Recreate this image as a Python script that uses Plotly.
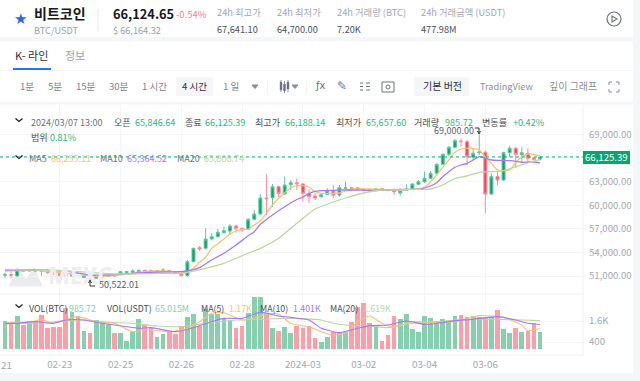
import plotly.graph_objects as go

W, H = 640, 381

# --- candles (4h BTC/USDT) -------------------------------------------------
opens = [51090,51180,51005,51767,51640,51767,51680,51640,51555,51344,51217,51005,51259,50836,51005,50709,50878,50960,51132,51217,
 51428,51470,51555,51725,51725,51598,51640,51682,51555,51344,51050,52820,54598,54522,55703,55995,56503,56719,57354,57062,
 56935,58205,58878,60910,60948,62345,61418,62599,62853,62688,61507,61164,61075,61380,61799,61291,62142,62223,62223,62011,
 61969,61842,62096,61969,61884,61545,61884,62053,62650,62980,63412,64047,65190,66460,67349,68149,68060,66079,66663,66714,
 61418,63615,63196,66663,67222,66409,66587,65990,65846.64]
highs = [51430,51560,51900,51810,51810,51830,51790,51900,51640,51430,51300,51300,51340,51130,51090,50960,51050,51130,51200,51640,
 51640,51850,51810,51770,51770,51770,51980,51770,51640,51430,53036,54600,54814,57062,56465,56973,57265,57608,57500,57150,
 58350,59386,61418,63958,62688,62500,63615,63196,63412,62815,62053,61507,61500,62142,62561,62561,62980,62330,62300,62090,
 62050,62180,62220,62050,62138,62138,62650,62800,63196,64250,64340,65317,66587,67514,68403,68492,68276,67133,69000,66917,
 64047,64250,66800,67552,67425,67349,67222,66100,66188.14]
lows = [50710,50710,50950,51550,51600,51560,51005,51300,51130,50990,50880,50920,50880,50790,50522.01,50620,50790,50900,50960,51130,
 51340,51380,51470,51470,51430,51510,51560,51470,51340,50960,50877,52750,54217,54450,55620,55920,56430,56211,56503,56592,
 56850,58120,58800,58751,59767,61037,61291,61926,61926,60440,60275,60656,60950,61291,60910,61075,62060,61800,61900,61760,
 61800,61700,61800,61760,61290,61200,61800,61950,62560,62815,63330,63960,65100,66244,67222,67425,65101,65736,66371,58967,
 61291,62561,63100,66117,64720,65317,65520,65647,65657.60]
closes = [51170,51100,51851,51640,51767,51640,51600,51430,51217,51047,50920,51217,50920,51005,50666,50878,51005,51047,51005,51555,
 51555,51640,51725,51555,51555,51682,51767,51555,51390,51047,52820,54522,54433,55703,55995,56554,56757,57354,57062,56846,
 58205,58878,60910,60821,62345,61507,62561,62853,62726,61507,61075,60910,61329,61837,61291,62218,62218,62096,62011,61842,
 61884,62053,61926,61884,61714,61799,62053,62688,62980,63412,64047,65190,66460,67349,68187,68060,66155,66587,66752,61418,
 63615,63196,66663,67222,66460,66663,65952,65825,66125.39]
volumes = [1600,1467,1886,1372,1619,1562,1924,1219,1276,1238,2324,2133,1886,1029,895,1657,1562,1410,933,933,
 476,990,1733,1372,1181,705,857,990,838,1238,1829,1981,1314,2286,2000,2000,1752,1657,1181,1314,
 2076,2990,2990,2076,1181,1048,1276,933,1314,1181,1314,610,419,705,990,895,990,1524,2419,2610,
 1467,1314,476,800,1886,1695,1981,1124,990,1886,1790,1619,1695,1562,1886,1943,1848,1886,1848,1810,
 1810,2229,1124,933,1181,990,1048,1467,985.72]

# --- moving averages read at selected candles ------------------------------
ma5_idx = [0,5,10,14,18,22,26,29,30,31,32,33,34,35,36,37,38,39,40,41,42,43,44,45,46,47,48,49,50,51,52,53,55,56,57,58,60,61,63,65,67,68,69,70,71,72,73,74,75,76,77,78,79,80,81,82,83,84,85,86,87,88]
ma5_val = [51640,51725,51344,51047,51047,51470,51640,51470,51550,51982,52744,53379,54522,55068,55703,56338,56719,56935,56935,57481,58027,58967,60021,60872,61583,62218,62472,62472,62307,61710,61507,61507,61545,61799,62015,62091,62053,62015,61965,61888,62015,62091,62269,62980,63831,64809,65736,66714,67133,67222,67222,67006,66079,65317,64466,64377,64466,65444,66155,66498,66460,66255.11]
ma10_idx = [0,5,10,14,18,22,26,29,30,32,34,36,38,40,41,42,44,46,48,49,50,51,52,54,56,58,60,62,64,66,68,70,71,72,73,74,75,76,77,78,79,80,81,82,83,84,85,86,87,88]
ma10_val = [51767,51767,51640,51132,51174,51386,51513,51555,51639,52058,53036,53887,54941,56122,56630,57570,58751,59807,60720,61037,61482,61761,61837,61888,61926,61926,61888,61926,61965,62015,62015,62434,62853,63615,64250,64809,65101,65317,65736,66155,65952,65736,65698,65698,65647,65571,65444,65482,65482,65364.52]
ma20_idx = [0,10,14,18,25,29,33,36,39,42,45,48,51,54,56,59,62,66,69,70,72,74,76,78,80,82,84,86,88]
ma20_val = [51851,51640,51470,51259,51344,51344,51982,52617,53582,54522,55792,57697,59513,60402,60910,61545,61926,61990,62015,62053,62561,63412,63704,64174,64250,64377,64885,65355,65808.74]

vma5_idx = [0,1,4,6,8,12,15,18,21,23,27,30,32,34,36,39,41,43,45,47,50,52,54,56,58,60,62,64,67,70,74,78,82,85,86,88]
vma5_val = [1276,1524,1524,1695,1467,1848,1562,1467,990,1124,990,1181,1562,2038,2076,1657,1752,2000,2000,1467,1276,990,800,895,1562,1886,1467,1238,1562,1524,1562,1905,1810,1372,1048,1170]
vma10_idx = [0,2,5,8,10,13,16,18,22,24,28,31,34,36,39,42,45,47,50,52,53,55,58,60,63,66,69,71,74,77,81,84,86,88]
vma10_val = [1467,1467,1562,1467,1657,1657,1467,1372,1181,1219,990,1219,1562,1752,1752,2095,1886,1810,1657,1181,1086,933,1181,1333,1372,1600,1410,1467,1619,1695,1848,1657,1467,1401]
vma20_idx = [0,5,10,13,17,21,25,29,33,38,42,46,51,52,54,56,60,63,66,71,76,81,85,88]
vma20_val = [1505,1467,1619,1657,1524,1467,1314,1276,1467,1657,1695,1752,1695,1657,1467,1372,1314,1219,1429,1562,1695,1695,1657,1619]

last_price = 66125.39
price_ticks = [51000,54000,57000,60000,63000,66000,69000]
price_labels = ["51,000.00","54,000.00","57,000.00","60,000.00","63,000.00","","69,000.00"]
vol_ticks = [400,1600]
date_idx = [9,19,29,39,49,59,69,79]
date_labels = ["02-23","02-25","02-26","02-28","2024-03","03-02","03-04","03-06"]

GREEN, RED = "#0aa56c", "#f8425c"
GREEN_W, RED_W = "#62c49f", "#fb8b9b"
VGREEN, VRED = "#86d0b0", "#fd9ea9"
ORANGE, PURPLE, OLIVE = "#f8c178", "#a678f5", "#bcd6a0"
GREY, DARK, BLACK = "#a3a8b2", "#555a63", "#15181d"
GRID = "#f4f5f7"
KR = "Noto Sans CJK KR, Noto Sans, sans-serif"

X = list(range(len(closes)))
x_rng = [-5/6.08, 578/6.08]
y_top, y_mid, y_bot = 105, 294, 355
chart_r = 583/W

fig = go.Figure()
fig.add_trace(go.Candlestick(x=X, open=opens, high=highs, low=lows, close=closes, xaxis="x", yaxis="y",
    whiskerwidth=0,
    increasing=dict(line=dict(color=GREEN_W, width=1), fillcolor=GREEN),
    decreasing=dict(line=dict(color=RED_W, width=1), fillcolor=RED)))
for idx, val, col in [(ma5_idx, ma5_val, ORANGE), (ma10_idx, ma10_val, PURPLE), (ma20_idx, ma20_val, OLIVE)]:
    fig.add_trace(go.Scatter(x=idx, y=val, mode="lines", xaxis="x", yaxis="y",
                             line=dict(color=col, width=1.3, shape="spline", smoothing=0.5)))
fig.add_trace(go.Bar(x=X, y=volumes, xaxis="x2", yaxis="y2", width=0.78,
                     marker=dict(color=[VGREEN if c >= o else VRED for o, c in zip(opens, closes)], line=dict(width=0))))
for idx, val, col in [(vma20_idx, vma20_val, OLIVE), (vma5_idx, vma5_val, ORANGE), (vma10_idx, vma10_val, PURPLE)]:
    fig.add_trace(go.Scatter(x=idx, y=val, mode="lines", xaxis="x2", yaxis="y2",
                             line=dict(color=col, width=1.1, shape="spline", smoothing=0.6)))

px = lambda v: v/W
py = lambda v: 1-v/H
ann = []
def T(x, y, s, color=DARK, size=10, bold=False, anchor="left", font=KR):
    ann.append(dict(x=px(x), y=py(y), xref="paper", yref="paper", text=f"<b>{s}</b>" if bold else s, showarrow=False,
                    xanchor=anchor, yanchor="middle", align="left", borderpad=0,
                    font=dict(family=font, size=size, color=color)))
shapes = []
def R(x0, y0, x1, y1, fill, layer="below", line=None):
    shapes.append(dict(type="rect", xref="paper", yref="paper", x0=px(x0), x1=px(x1), y0=py(y0), y1=py(y1),
                       fillcolor=fill, line=dict(width=1 if line else 0, color=line or fill), layer=layer))
def P(path_pts, color, width=1.2, fill=None, layer="above"):
    d = " ".join(("M" if i == 0 else "L")+f"{px(x)},{py(y)}" for i, (x, y) in enumerate(path_pts))
    shapes.append(dict(type="path", xref="paper", yref="paper", path=d+(" Z" if fill else ""),
                       line=dict(color=color, width=width), fillcolor=fill or "rgba(0,0,0,0)", layer=layer))
def chevron(x, y):
    P([(x-3.5, y-1.5), (x, y+1.5), (x+3.5, y-1.5)], BLACK, 1.2)

# page bands
R(0, 37, 633, 41.5, "#f5f6f8")
R(0, 102, 633, 104.5, "#f5f6f8")
R(0, 70, 633, 70.7, "#f2f3f5")
R(0, 373, 640, 381, "#f5f6f8")
R(633, 0, 640, 381, "#f5f6f8")
R(176, 77, 213, 96, "#f5f6f8")
R(414, 77, 469, 96, "#f5f6f8")
R(13, 68, 51, 70, "#2a74ee")
R(97.7, 9, 98.4, 31, "#dfe1e5")
R(267, 80, 267.7, 93, "#e6e8eb")
R(306.5, 80, 307.2, 93, "#e6e8eb")

# header
T(20, 19, "★", "#1f6fe8", 15, anchor="center", font="DejaVu Sans")
T(33, 13, "비트코인", BLACK, 14, True)
T(33, 30, "BTC/USDT", "#9aa0aa", 9.2)
T(112, 13, "66,124.65", BLACK, 12.8, True)
T(175, 14, "-0.54%", "#f5828f", 9.5)
T(112, 30, "$ 66,164.32", "#9aa0aa", 9.2)
for x, a, b in [(216, "24h 최고가", "67,641.10"), (276, "24h 최저가", "64,700.00"),
                (336, "24h 거래량 (BTC)", "7.20K"), (420, "24h 거래금액 (USDT)", "477.98M")]:
    T(x, 12, a, GREY, 9.3)
    T(x, 29, b, "#4a4f57", 9.2)
shapes.append(dict(type="circle", xref="paper", yref="paper", x0=px(607), x1=px(621), y0=py(12), y1=py(26),
                   line=dict(color="#6b7280", width=1.2)))
P([(612, 16), (617, 19), (612, 22)], "#6b7280", 1.1, fill="rgba(0,0,0,0)")

# tabs and toolbar
T(14, 55, "K- 라인", "#2c3037", 11)
T(64, 55, "정보", "#9aa0aa", 11)
for x, s in [(19, "1분"), (47, "5분"), (75, "15분"), (108, "30분"), (141, "1 시간"), (222, "1 일")]:
    T(x, 86, s, "#7d838d", 9.5)
T(181, 86, "4 시간", "#2c3037", 9.5)
P([(252, 85), (258, 85), (255, 88.5)], "#8a8f98", 1, fill="#8a8f98")
P([(292, 85), (298, 85), (295, 88.5)], "#8a8f98", 1, fill="#8a8f98")
for x, y0, y1, b0, b1 in [(281, 80, 92, 82, 90), (284.5, 81, 93, 84, 91), (288, 80, 92, 82, 89)]:
    P([(x, y0), (x, y1)], "#6b7280", 0.8)
    R(x-1.2, b0, x+1.2, b1, "#6b7280", "above")
T(314, 86, "ƒx", "#6b7280", 10, font="DejaVu Sans")
T(342, 86, "✎", "#6b7280", 12, anchor="center", font="DejaVu Sans")
for y in (83, 86.5, 90):
    P([(360, y), (363, y)], "#6b7280", 1)
    P([(366, y), (370, y)], "#6b7280", 1)
R(382, 82, 394, 92, "rgba(0,0,0,0)", "above", "#6b7280")
shapes.append(dict(type="circle", xref="paper", yref="paper", x0=px(386), x1=px(390), y0=py(85), y1=py(89),
                   line=dict(color="#6b7280", width=1)))
T(422, 86, "기본 버전", "#2c3037", 10)
T(479, 86, "TradingView", "#8a8f98", 9.2)
T(548, 86, "깊이 그래프", "#8a8f98", 10)
for sx, sy in [(-1, -1), (1, -1), (-1, 1), (1, 1)]:
    cx, cy = 614+sx*5, 87+sy*5
    P([(cx-sx*3, cy), (cx, cy), (cx, cy-sy*3)], "#8a8f98", 1)

# info rows
chevron(19, 120)
IG, ID = "#2fb584", "#4a4f57"
T(30, 122, "2024/03/07 13:00", "#6b7280", 9)
for x, s, c in [(113, "오픈", ID), (134, "65,846.64", IG), (184, "종료", ID), (204, "66,125.39", IG), (254, "최고가", ID),
                (284, "66,188.14", IG), (335, "최저가", ID), (365, "65,657.60", IG), (413, "거래량", ID),
                (444, "985.72", IG), (481, "변동률", ID), (512, "+0.42%", IG)]:
    T(x, 122, s, c, 9.1)
T(30, 137, "범위", ID, 9.1)
T(49, 137, "0.81%", IG, 9.1)
chevron(19, 157)
for x, s, c in [(28, "MA5", "#6b7280"), (50, "66,255.11", ORANGE), (99, "MA10", "#6b7280"), (126, "65,364.52", PURPLE),
                (176, "MA20", "#6b7280"), (203, "65,808.74", OLIVE)]:
    T(x, 158.5, s, c, 9)
chevron(19, 306)
for x, s, c in [(28, "VOL(BTC)", ID), (68, "985.72", VGREEN), (106, "VOL(USDT)", ID), (154, "65.015M", VGREEN),
                (200, "MA(5)", ID), (228, "1.17K", ORANGE), (259, "MA(10)", ID), (292, "1.401K", PURPLE),
                (329, "MA(20)", ID), (362, "1.619K", OLIVE)]:
    T(x, 308, s, c, 8.8)

# high / low marks
T(433, 130, "69,000.00", "#5a5f67", 9)
P([(475, 128), (479, 128), (479, 133)], "#333", 1)
P([(477.5, 131), (479, 134), (480.5, 131)], "#333", 1)
T(98, 284, "50,522.01", "#5a5f67", 9)
P([(90, 281), (90, 286), (95, 286)], "#333", 1)
P([(88.5, 283), (90, 280), (91.5, 283)], "#333", 1)
T(0, 365, "21", GREY, 9.8)

# watermark
P([(9, 286), (18, 268), (26, 280), (34, 268), (42, 286)], "#e9ebee", 1, fill="#e9ebee", layer="below")
ann.insert(0, dict(x=px(46), y=py(275), xref="paper", yref="paper", text="<b>MEXC</b>", showarrow=False, xanchor="left",
                   yanchor="middle", font=dict(family="Noto Sans, sans-serif", size=23, color="#eceef0")))

# price tag and last price line
shapes.append(dict(type="line", xref="x", yref="y", x0=x_rng[0], x1=x_rng[1], y0=last_price, y1=last_price,
                   line=dict(color="#16a874", width=1, dash="dot"), layer="above"))
R(583, 151, 630, 164, "#0aa56c", "above")
T(606.5, 157.5, "66,125.39", "#ffffff", 9.6, anchor="center")

# frame
for x0, y0, x1, y1 in [(583, 105, 583, 355), (0, 355, 583, 355), (0, 294, 583, 294)]:
    shapes.append(dict(type="line", xref="paper", yref="paper", x0=px(x0), x1=px(x1), y0=py(y0), y1=py(y1),
                       line=dict(color="#eef0f2", width=1), layer="below"))

common_x = dict(range=x_rng, showgrid=True, gridcolor=GRID, gridwidth=1, zeroline=False, showline=False, ticks="",
                domain=[0, chart_r], tickmode="array", tickvals=date_idx, rangeslider=dict(visible=False))
fig.update_layout(
    width=W, height=H, autosize=False, margin=dict(l=0, r=0, t=0, b=0), showlegend=False,
    paper_bgcolor="#ffffff", plot_bgcolor="rgba(0,0,0,0)", hovermode=False, bargap=0,
    font=dict(family=KR, size=10, color=GREY),
    xaxis=dict(**common_x, anchor="y", showticklabels=False, ticktext=date_labels),
    xaxis2=dict(**common_x, anchor="y2", ticktext=date_labels, showticklabels=True, ticklabelstandoff=2,
                tickfont=dict(family=KR, size=9.8, color=GREY), ticklen=0),
    yaxis=dict(domain=[py(y_mid), py(y_top)], range=[86056-127*y_mid, 86056-127*y_top], side="right", anchor="x",
               tickmode="array", tickvals=price_ticks, ticktext=price_labels,
               showgrid=True, gridcolor=GRID, zeroline=False, showline=False, ticklabelstandoff=5,
               tickfont=dict(family=KR, size=9.6, color=GREY), ticklen=0),
    yaxis2=dict(domain=[py(y_bot), py(y_mid)], range=[-343, 3143], side="right", anchor="x2",
                tickmode="array", tickvals=vol_ticks, ticktext=["400", "1.6K"], ticklabelstandoff=5,
                showgrid=True, gridcolor=GRID, zeroline=False, showline=False,
                tickfont=dict(family=KR, size=9.6, color=GREY), ticklen=0),
    annotations=ann, shapes=shapes,
)
fig.write_html("out.html", config=dict(displayModeBar=False, staticPlot=True),
               post_script="document.body.style.margin='0';document.body.style.overflow='hidden';")
